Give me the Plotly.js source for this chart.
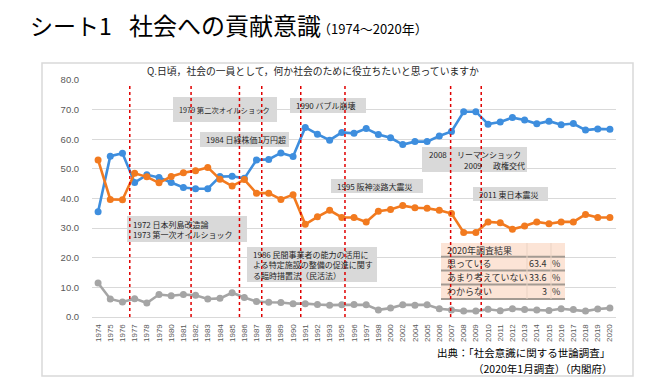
<!DOCTYPE html>
<html><head><meta charset="utf-8">
<script src="https://cdn.plot.ly/plotly-3.0.1.min.js"></script>
<style>body{margin:0;background:#fff}#chart{width:670px;height:377px}</style>
</head><body><div id="chart"></div>
<script>
// ---- data ----
const years = ['1974','1975','1976','1977','1978','1979','1980','1981','1982','1983','1984','1985','1986','1987','1988','1989','1990','1991','1992','1993','1995','1996','1997','1998','2000','2002','2004','2005','2006','2007','2008','2009','2010','2011','2012','2013','2014','2015','2016','2017','2018','2019','2020'];
const thinking = [35.5,54.3,55.3,45.4,48.0,47.1,45.4,43.7,43.3,43.3,47.4,47.5,46.8,53.0,53.2,55.4,54.2,64.0,61.7,59.7,62.3,62.0,63.6,61.6,60.5,58.2,59.2,59.2,61.1,62.6,69.3,69.3,65.1,65.8,67.3,66.5,65.2,66.1,64.9,65.3,63.1,63.5,63.4];
const notThinking = [53.0,39.7,39.6,48.5,47.3,45.3,47.4,48.7,49.4,50.5,46.5,44.2,46.4,41.8,41.8,39.7,41.3,31.3,33.8,36.0,33.6,33.6,32.1,35.7,36.3,37.6,36.9,36.7,36.0,34.9,28.5,28.5,32.1,31.8,29.6,30.7,32.1,31.5,32.1,32.1,34.6,33.6,33.6];
const dontKnow = [11.5,6.1,5.1,6.2,4.7,7.6,7.2,7.6,7.3,6.1,6.3,8.2,6.6,5.2,5.0,4.9,4.5,4.5,4.2,4.0,4.1,4.2,4.1,2.4,3.0,4.1,4.0,4.1,2.8,2.4,2.0,2.0,2.6,2.1,2.8,2.5,2.4,2.2,2.8,2.5,2.0,2.7,3.0];
const seriesNames = ['思っている','あまり考えていない','わからない'];
const results2020 = ['63.4','33.6','3'];
const eventTexts = ['1979 第二次オイルショック','1984 日経株価1万円超','1990 バブル崩壊','1995 阪神淡路大震災','2011 東日本震災','1972 日本列島改造論<br>1973 第一次オイルショック','1986 民間事業者の能力の活用に<br>よる特定施設の整備の促進に関す<br>る臨時措置法（民活法）'];

// ---- layout helpers (pixel -> paper) ----
const L=92, T=80, W=524, H=237;
const px = x => (x-L)/W;
const py = y => (T+H-y)/H;
const JP = '"Noto Sans CJK JP", "Noto Sans", sans-serif';
const colors = ['#3e8ede','#f27a1f','#a5a5a5'];

const traces = [thinking, notThinking, dontKnow].map((vals,i)=>({
  type:'scatter', mode:'lines+markers', x:years, y:vals, name:seriesNames[i],
  line:{color:colors[i], width:2.6}, marker:{color:colors[i], size:7},
  cliponaxis:false
}));

const shapes = [];
const annotations = [];
// outer frame
shapes.push({type:'rect', xref:'paper', yref:'paper', x0:px(42), x1:px(633), y0:py(63), y1:py(376), line:{color:'#d9d9d9', width:1.5}, layer:'below'});

// event boxes: x0,x1,y0,y1,textIndex,fontSize
const boxes = [
  [173,277,97,122, 0, 7.3],
  [200,289,132,147, 1, 8],
  [290,366,98,113, 2, 8],
  [331,423,179,193, 3, 8],
  [473,548,187,201, 4, 8],
  [127,247,216,242, 5, 8],
  [247,377,247,282, 6, 8],
];
boxes.forEach(b=>{
  shapes.push({type:'rect', xref:'paper', yref:'paper', x0:px(b[0]), x1:px(b[1]), y0:py(b[2]), y1:py(b[3]), fillcolor:'#d9d9d9', line:{width:0}, layer:'above'});
  annotations.push({xref:'paper', yref:'paper', x:px(b[0]+4), y:py((b[2]+b[3])/2), xanchor:'left', yanchor:'middle', align:'left', showarrow:false, text:eventTexts[b[4]], font:{family:JP, size:b[5], color:'#262626'}});
});
// 2008/2009 box
shapes.push({type:'rect', xref:'paper', yref:'paper', x0:px(422), x1:px(527), y0:py(147), y1:py(172), fillcolor:'#d9d9d9', line:{width:0}, layer:'above'});
[['2008',427,154],['リーマンショック',455,154],['2009',462,165],['政権交代',491,165]].forEach(t=>{
  annotations.push({xref:'paper', yref:'paper', x:px(t[1]), y:py(t[2]), xanchor:'left', yanchor:'middle', showarrow:false, text:t[0], font:{family:JP, size:8, color:'#262626'}});
});

// table
const tx0=441, tx1=565;
shapes.push({type:'rect', xref:'paper', yref:'paper', x0:px(tx0), x1:px(tx1), y0:py(243), y1:py(299), fillcolor:'#fce4d6', line:{width:0}, layer:'above'});
[256.7,270.5,284.5,299].forEach(y=>{
  shapes.push({type:'line', xref:'paper', yref:'paper', x0:px(tx0), x1:px(tx1), y0:py(y), y1:py(y), line:{color:'#a39a92', width:2}, layer:'above'});
});
[527,551].forEach(x=>{
  shapes.push({type:'line', xref:'paper', yref:'paper', x0:px(x), x1:px(x), y0:py(243), y1:py(299), line:{color:'#ead3c4', width:1}, layer:'above'});
});
annotations.push({xref:'paper', yref:'paper', x:px(445), y:py(250), xanchor:'left', yanchor:'middle', showarrow:false, text:'2020年調査結果', font:{family:JP, size:9, color:'#333'}});
[263.5,277.5,291.5].forEach((y,i)=>{
  annotations.push({xref:'paper', yref:'paper', x:px(445), y:py(y), xanchor:'left', yanchor:'middle', showarrow:false, text:seriesNames[i], font:{family:JP, size:9, color:'#333'}});
  annotations.push({xref:'paper', yref:'paper', x:px(549), y:py(y), xanchor:'right', yanchor:'middle', showarrow:false, text:results2020[i], font:{family:JP, size:9, color:'#333'}});
  annotations.push({xref:'paper', yref:'paper', x:px(556), y:py(y), xanchor:'center', yanchor:'middle', showarrow:false, text:'%', font:{family:JP, size:9, color:'#333'}});
});

// red event lines (category index positions)
[2.6, 7.63, 11.6, 13.43, 16.63, 20.26, 28.93, 31.44].forEach(x=>{
  shapes.push({type:'line', xref:'x', yref:'y', x0:x, x1:x, y0:0, y1:79, line:{color:'#e00000', width:1.5, dash:'3px,3px'}, layer:'above'});
});

// titles & notes
annotations.push({xref:'paper', yref:'paper', x:px(28), y:py(25), xanchor:'left', yanchor:'middle', showarrow:false, text:'シート1', font:{family:JP, size:23, color:'#000'}});
annotations.push({xref:'paper', yref:'paper', x:px(127), y:py(25), xanchor:'left', yanchor:'middle', showarrow:false, text:'社会への貢献意識', font:{family:JP, size:24, color:'#000'}});
annotations.push({xref:'paper', yref:'paper', x:px(316), y:py(29), xanchor:'left', yanchor:'middle', showarrow:false, text:'（1974～2020年）', font:{family:JP, size:13, color:'#000'}});
annotations.push({xref:'paper', yref:'paper', x:px(145), y:py(71), xanchor:'left', yanchor:'middle', showarrow:false, text:'Q.日頃，社会の一員として，何か社会のために役立ちたいと思っていますか', font:{family:JP, size:9.8, color:'#262626'}});
annotations.push({xref:'paper', yref:'paper', x:px(612), y:py(352), xanchor:'right', yanchor:'middle', showarrow:false, text:'出典：「社会意識に関する世論調査」', font:{family:JP, size:10.5, color:'#000'}});
annotations.push({xref:'paper', yref:'paper', x:px(614), y:py(368), xanchor:'right', yanchor:'middle', showarrow:false, text:'（2020年1月調査）（内閣府）', font:{family:JP, size:10.5, color:'#000'}});

const layout = {
  width:670, height:377,
  margin:{l:L, r:670-L-W, t:T, b:377-T-H, pad:0},
  paper_bgcolor:'#fff', plot_bgcolor:'#fff',
  showlegend:false, hovermode:false,
  xaxis:{type:'category', range:[-0.5, years.length-0.5], showgrid:false, zeroline:false, showline:false,
    tickangle:-90, tickfont:{family:'"Liberation Sans", sans-serif', size:8, color:'#595959'}, ticks:'outside', ticklen:3, tickcolor:'rgba(0,0,0,0)'},
  yaxis:{range:[0,80], dtick:10, tickformat:'.1f', showgrid:true, gridcolor:'#d9d9d9', gridwidth:1,
    zeroline:true, zerolinecolor:'#d9d9d9', zerolinewidth:1, showline:false,
    tickfont:{family:'"Liberation Sans", sans-serif', size:9.5, color:'#595959'}, ticks:'outside', ticklen:10, tickcolor:'rgba(0,0,0,0)'},
  shapes, annotations
};
Plotly.newPlot('chart', traces, layout, {staticPlot:true});
</script></body></html>
